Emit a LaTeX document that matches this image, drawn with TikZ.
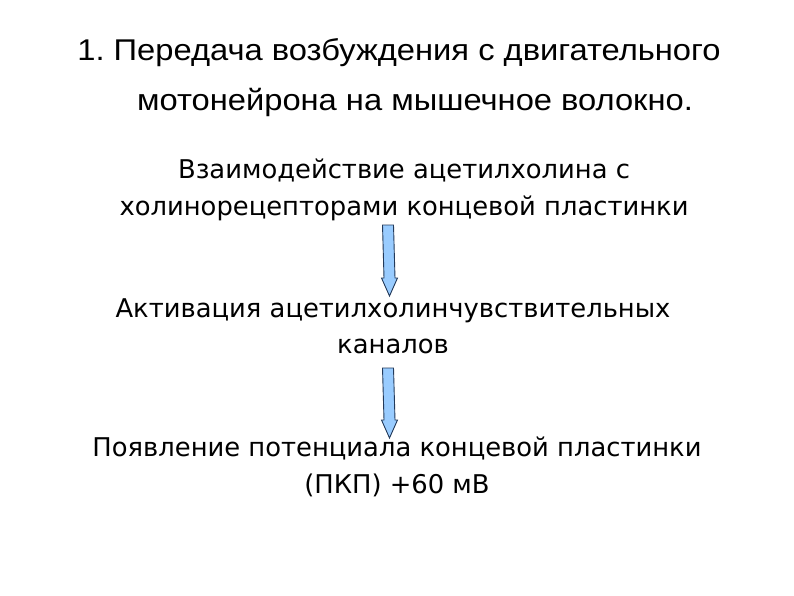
\documentclass[tikz,border=0pt]{standalone}
\usepackage{fontspec}
\setmainfont{Liberation Sans}
\newfontfamily\titlefont[FakeStretch=1.09]{Liberation Sans}
\newfontfamily\bodyfont{DejaVu Sans}
\usetikzlibrary{calc}
\definecolor{arrfill}{HTML}{99CCFF}
\definecolor{arrline}{HTML}{233A5A}
\tikzset{
  title/.style={anchor=base, inner sep=0pt, font=\titlefont\fontsize{30}{30}\selectfont},
  body/.style={anchor=base, inner sep=0pt, font=\bodyfont\fontsize{25.8}{25.8}\selectfont},
  blockarrow/.style={fill=arrfill, draw=arrline, line width=0.9pt, line join=miter}
}
\newcommand{\blockarrow}[2]{%
  \draw[blockarrow] ($(#1)+(-5.5,0)$) -- ($(#1)+(5.5,0)$) -- ($(#2)+(5.5,-18)$) -- ($(#2)+(8,-18)$)
    -- (#2) -- ($(#2)+(-8,-18)$) -- ($(#2)+(-5.5,-18)$) -- cycle;}
\begin{document}
\begin{tikzpicture}[x=1pt,y=-1pt]
\useasboundingbox (0,0) rectangle (794,595);
\node[title] (t1) at (399,60) {1.\ Передача возбуждения с двигательного};
\node[title] (t2) at (415,110) {мотонейрона на мышечное волокно.};
\node[body] (b1a) at (404,178) {Взаимодействие ацетилхолина с};
\node[body] (b1b) at (404,215) {холинорецепторами концевой пластинки};
\node[body] (b2a) at (393,317) {Активация ацетилхолинчувствительных};
\node[body] (b2b) at (393,353) {каналов};
\node[body] (b3a) at (397,456) {Появление потенциала концевой пластинки};
\node[body] (b3b) at (397,493) {(ПКП) +60 мВ};
\coordinate (a1s) at (388,225);
\coordinate (a1e) at (389.5,296);
\coordinate (a2s) at (388,368);
\coordinate (a2e) at (389.5,438);
\blockarrow{a1s}{a1e}
\blockarrow{a2s}{a2e}
\end{tikzpicture}
\end{document}
